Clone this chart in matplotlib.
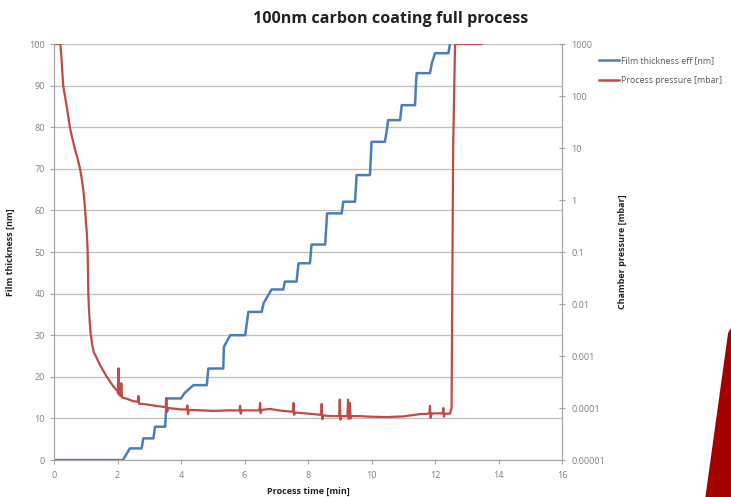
import matplotlib
matplotlib.use('Agg')
import matplotlib.pyplot as plt
from matplotlib.lines import Line2D
from matplotlib.patches import Polygon

# Film thickness (blue, left axis)
thick_t = [0, 2.17, 2.39, 2.76, 2.81, 3.13, 3.18, 3.5, 3.55, 4.0, 4.1, 4.39, 4.81, 4.86,
           5.33, 5.35, 5.55, 6.02, 6.12, 6.54, 6.6, 6.85, 7.22, 7.27, 7.64, 7.7, 8.06,
           8.11, 8.54, 8.6, 9.06, 9.11, 9.48, 9.53, 9.95, 10.0, 10.42, 10.49, 10.52,
           10.9, 10.95, 11.37, 11.4, 11.42, 11.84, 11.9, 12.0, 12.42, 12.47]
thick_nm = [0, 0, 2.8, 2.8, 5.2, 5.2, 8.0, 8.0, 14.8, 14.8, 16.0, 18.0, 18.0, 22.0,
            22.0, 27.2, 30.0, 30.0, 35.6, 35.6, 37.7, 41.0, 41.0, 42.9, 42.9, 47.3, 47.3,
            51.8, 51.8, 59.3, 59.3, 62.1, 62.1, 68.5, 68.5, 76.5, 76.5, 79.7, 81.7,
            81.7, 85.3, 85.3, 90.5, 93.0, 93.0, 95.4, 97.8, 97.8, 100]

# Process pressure (red, right log axis): (time [min], pressure [mbar])
pressure_readings = [
    (0, 1000), (0.2, 1000), (0.23, 600), (0.26, 300), (0.29, 158), (0.35, 95), (0.4, 63),
    (0.5, 25), (0.58, 15), (0.65, 10), (0.75, 6.0), (0.82, 4.0), (0.88, 2.4), (0.92, 1.6),
    (0.96, 0.9), (0.98, 0.63), (1.01, 0.35), (1.03, 0.25), (1.05, 0.14), (1.06, 0.1),
    (1.07, 0.04), (1.08, 0.016), (1.1, 0.008), (1.12, 0.005), (1.15, 0.0028),
    (1.2, 0.0017), (1.25, 0.0012), (1.35, 0.0009), (1.45, 0.00067),
    (1.66, 0.0004), (1.85, 0.00027), (2.0, 0.00021), (2.02, 0.00019), (2.03, 0.00058),
    (2.05, 0.00018), (2.1, 0.00017), (2.12, 0.0003), (2.14, 0.00016), (2.3, 0.00015),
    (2.5, 0.000135), (2.64, 0.000133), (2.66, 0.00017), (2.68, 0.00012), (2.8, 0.00012),
    (3.0, 0.000115), (3.5, 0.000104), (3.52, 0.000104), (3.53, 0.000156), (3.56, 8.5e-5),
    (3.6, 0.0001), (4.0, 9.4e-5), (4.18, 9.4e-5), (4.2, 0.000112), (4.22, 7.6e-5),
    (4.25, 9.2e-5), (4.5, 9.1e-5), (5.0, 8.8e-5), (5.5, 9.0e-5), (5.84, 9.0e-5),
    (5.86, 0.00011), (5.88, 7.8e-5), (5.91, 9.0e-5), (6.2, 9.0e-5), (6.47, 9.0e-5),
    (6.49, 0.000125), (6.51, 8.0e-5), (6.54, 9.2e-5), (6.8, 9.6e-5), (7.2, 8.8e-5),
    (7.52, 8.5e-5), (7.54, 0.000125), (7.56, 7.4e-5), (7.59, 8.2e-5), (7.9, 7.9e-5),
    (8.2, 7.6e-5), (8.41, 7.4e-5), (8.43, 0.00012), (8.45, 6.1e-5), (8.48, 7.2e-5),
    (8.7, 7.0e-5), (8.98, 7.0e-5), (9.0, 0.000145), (9.02, 6.0e-5), (9.05, 7.0e-5),
    (9.24, 7.0e-5), (9.26, 0.000145), (9.28, 6.2e-5), (9.3, 7.0e-5), (9.32, 0.000125),
    (9.34, 6.3e-5), (9.37, 7.0e-5), (9.6, 7.0e-5), (10.0, 6.8e-5), (10.5, 6.7e-5),
    (11.0, 6.9e-5), (11.5, 7.6e-5), (11.82, 7.8e-5), (11.84, 0.00011), (11.86, 6.5e-5),
    (11.89, 7.8e-5), (12.0, 7.9e-5), (12.24, 7.9e-5), (12.26, 0.0001), (12.28, 6.8e-5),
    (12.31, 7.8e-5), (12.47, 7.8e-5), (12.52, 0.0001), (12.57, 10), (12.6, 100),
    (12.63, 1000), (13.47, 1000),
]
press_t = [t for t, p in pressure_readings]
press_mbar = [p for t, p in pressure_readings]

x_ticks = [0, 2, 4, 6, 8, 10, 12, 14, 16]
left_ticks = [0, 10, 20, 30, 40, 50, 60, 70, 80, 90, 100]
right_ticks = [1e-5, 1e-4, 1e-3, 1e-2, 1e-1, 1, 10, 100, 1000]
right_labels = ['0.00001', '0.0001', '0.001', '0.01', '0.1', '1', '10', '100', '1000']

blue = '#4a7ebb'
red = '#be4b48'
axis_grey = '#a6a6a6'
text_grey = '#7f7f7f'

plt.rcParams['font.family'] = ['Open Sans', 'DejaVu Sans']

fig = plt.figure(figsize=(7.31, 4.97), dpi=100)
ax = fig.add_axes([0.0739, 0.0744, 0.695, 0.837])
ax2 = ax.twinx()

ax.plot(thick_t, thick_nm, color=blue, linewidth=1.8, zorder=3)
ax2.plot(press_t, press_mbar, color=red, linewidth=1.6)

ax.set_xlim(0, 16)
ax.set_ylim(0, 100)
ax.set_xticks(x_ticks)
ax.set_yticks(left_ticks)
ax.grid(True, axis='y', color='#bfbfbf', linewidth=0.9)
ax.set_axisbelow(True)

ax2.set_yscale('log')
ax2.set_ylim(1e-5, 1e3)
ax2.set_yticks(right_ticks)
ax2.set_yticklabels(right_labels)
ax2.minorticks_off()

for a in (ax, ax2):
    a.spines['top'].set_visible(False)
    for s in ('left', 'right', 'bottom'):
        a.spines[s].set_color(axis_grey)
    a.tick_params(colors=axis_grey, labelcolor=text_grey, labelsize=6.5, length=3)
ax2.tick_params(axis='y', direction='inout', length=5, pad=4)
ax.tick_params(axis='x', pad=5)

ax.set_xlabel('Process time [min]', fontsize=6.5, fontweight='bold', color='#222222', labelpad=5)
ax.set_ylabel('Film thickness [nm]', fontsize=6.5, fontweight='bold', color='#222222', labelpad=10)
ax2.set_ylabel('Chamber pressure [mbar]', fontsize=6.5, fontweight='bold', color='#222222', labelpad=9)

fig.text(0.535, 0.962, '100nm carbon coating full process', ha='center', va='center',
         fontsize=11.6, fontweight='bold', color='#222222')

handles = [Line2D([], [], color=blue, linewidth=1.8), Line2D([], [], color=red, linewidth=1.8)]
fig.legend(handles, ['Film thickness eff [nm]', 'Process pressure [mbar]'],
           loc='upper left', bbox_to_anchor=(0.814, 0.895), frameon=False,
           fontsize=6.3, labelcolor='#555555', handlelength=2.3, handletextpad=0.3,
           labelspacing=1.3, borderaxespad=0)

# decorative red stroke in the lower right corner
fig.patches.append(Polygon([(0.965, 0.0), (0.996, 0.33), (1.0, 0.34), (1.0, 0.0)],
                           closed=True, transform=fig.transFigure, facecolor='#a50000',
                           edgecolor='none'))

fig.savefig('out.png', dpi=100)
